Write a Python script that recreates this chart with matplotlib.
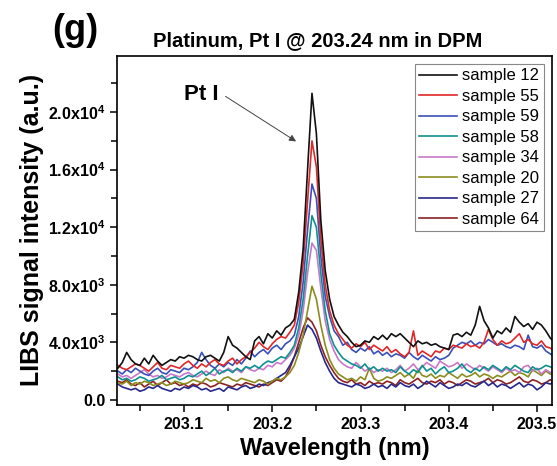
import numpy as np
import matplotlib
matplotlib.use("Agg")
import matplotlib.pyplot as plt
from matplotlib.ticker import FixedLocator, FixedFormatter

plt.rcParams['font.family'] = ['Liberation Sans', 'DejaVu Sans']
plt.rcParams['mathtext.default'] = 'regular'

# wavelength grid (nm)
wl = 203.025 + 0.005 * np.arange(100)

# intensities, in units of 100 counts
s12 = [22, 26, 33, 28, 25, 24, 29, 25, 31, 27, 24, 26, 28, 27, 30, 29,
       31, 30, 28, 27, 30, 31, 29, 27, 33, 44, 38, 36, 33, 30, 28,
       41, 44, 39, 46, 43, 48, 45, 50, 52, 56,
       75, 105, 160, 213, 185, 125, 90, 70, 58, 52, 47, 44, 40, 37, 38, 41, 40, 44, 42,
       45, 42, 46, 44, 46, 43, 40, 37, 41, 39, 40, 38, 39, 37, 36, 35, 45, 46, 44, 47,
       45, 52, 65, 55, 50, 43, 48, 46, 50, 47, 58, 54, 51, 53, 49, 54, 52, 48, 43, 40]
s55 = [24, 22, 21, 23, 25, 24, 22, 20, 23, 26, 22, 21, 24, 23, 22, 25,
       27, 24, 22, 25, 23, 26, 28, 25, 24, 27, 29, 25, 28, 30, 33,
       36, 40, 37, 35, 39, 42, 44, 43, 47, 52,
       68, 95, 138, 180, 162, 112, 80, 62, 52, 46, 42, 38, 36, 39, 37, 40, 35, 38, 36,
       34, 37, 33, 35, 32, 30, 33, 48, 31, 34, 32, 30, 34, 33, 36, 35, 38, 37, 36, 39,
       37, 38, 36, 40, 49, 42, 38, 41, 39, 40, 43, 46, 40, 42, 39, 38, 41, 37, 36, 34]
s59 = [20, 18, 21, 19, 22, 20, 18, 17, 20, 22, 19, 18, 21, 20, 19, 22,
       21, 23, 26, 33, 28, 24, 22, 25, 23, 26, 24, 28, 25, 29, 34,
       30, 33, 35, 32, 36, 38, 35, 39, 41, 45,
       58, 82, 118, 150, 140, 100, 72, 58, 48, 44, 38, 40, 35, 33, 36, 34, 37, 32, 34,
       31, 33, 30, 32, 31, 29, 33, 30, 28, 31, 29, 27, 30, 28, 29, 31, 36, 38, 40, 39,
       41, 38, 40, 39, 42, 40, 38, 39, 37, 36, 38, 37, 35, 45, 37, 36, 38, 34, 32, 30]
s58 = [16, 14, 15, 13, 14, 16, 15, 13, 14, 15, 17, 14, 15, 16, 14, 15,
       17, 16, 18, 20, 17, 19, 22, 18, 20, 21, 19, 22, 20, 23, 22,
       24, 22, 25, 27, 26, 28, 30, 29, 33, 38,
       50, 70, 100, 128, 120, 88, 62, 46, 38, 33, 29, 27, 25, 24, 22, 25, 21, 23, 20,
       22, 20, 21, 19, 23, 20, 18, 21, 19, 24, 20, 22, 18, 21, 23, 19, 20, 22, 25, 21,
       19, 22, 20, 23, 21, 24, 22, 20, 23, 21, 24, 22, 20, 19, 23, 21, 22, 24, 23, 22]
s34 = [18, 16, 17, 15, 17, 19, 21, 18, 16, 17, 15, 16, 18, 17, 16, 18,
       19, 17, 16, 18, 20, 18, 17, 21, 19, 22, 20, 21, 19, 23, 21,
       20, 22, 21, 24, 23, 26, 25, 28, 31, 36,
       45, 62, 88, 109, 104, 78, 55, 42, 34, 28, 25, 23, 22, 26, 23, 20, 22, 19, 21,
       20, 22, 19, 21, 24, 20, 22, 25, 21, 23, 26, 24, 22, 27, 25, 23, 24, 26, 22, 25,
       23, 21, 24, 22, 20, 23, 21, 19, 22, 20, 21, 19, 23, 24, 20, 22, 18, 21, 19, 20]
s20 = [12, 11, 13, 10, 12, 11, 13, 12, 10, 11, 12, 10, 11, 13, 12, 11,
       12, 14, 13, 12, 15, 13, 14, 12, 15, 16, 14, 13, 15, 14, 13,
       12, 14, 13, 11, 13, 15, 14, 16, 19, 24,
       33, 45, 62, 79, 70, 52, 38, 28, 22, 18, 16, 14, 15, 13, 16, 14, 22, 15, 13,
       14, 16, 15, 17, 19, 16, 18, 15, 21, 17, 16, 18, 15, 17, 16, 19, 17, 15, 18, 16,
       17, 19, 16, 18, 17, 15, 17, 16, 18, 20, 17, 19, 18, 16, 21, 19, 17, 20, 18, 17]
s27 = [11, 9, 8, 7, 8, 6, 7, 9, 8, 10, 8, 7, 6, 8, 7, 9,
       8, 10, 9, 7, 8, 6, 7, 8, 6, 9, 8, 7, 9, 10, 8,
       9, 11, 10, 12, 13, 15, 17, 19, 24, 30,
       36, 44, 52, 49, 43, 34, 26, 20, 15, 12, 11, 10, 9, 11, 10, 8, 9, 11, 9,
       10, 8, 11, 9, 12, 10, 9, 11, 8, 10, 13, 11, 9, 12, 10, 8, 9, 11, 10, 12,
       10, 9, 11, 13, 10, 12, 9, 11, 10, 8, 10, 12, 9, 11, 10, 7, 9, 12, 11, 13]
s64 = [13, 12, 14, 11, 10, 12, 9, 11, 13, 10, 12, 14, 11, 12, 10, 11,
       9, 11, 10, 12, 11, 9, 10, 12, 11, 10, 9, 11, 10, 12, 11,
       10, 9, 11, 10, 12, 14, 13, 16, 22, 30,
       40, 50, 57, 54, 48, 38, 30, 24, 19, 15, 13, 12, 14, 11, 12, 10, 13, 11, 12,
       11, 13, 12, 10, 14, 12, 11, 13, 15, 12, 11, 13, 12, 14, 11, 13, 12, 10, 12, 14,
       13, 11, 12, 13, 15, 12, 14, 13, 11, 12, 14, 16, 13, 12, 14, 13, 11, 12, 14, 12]

labels = ["sample 12", "sample 55", "sample 59", "sample 58",
          "sample 34", "sample 20", "sample 27", "sample 64"]
colors = ["#111111", "#e02828", "#3a50b8", "#0f9090",
          "#c878c8", "#8c8c1e", "#28288c", "#8c2323"]
series = [s12, s55, s59, s58, s34, s20, s27, s64]

yticks = [0, 4000, 8000, 12000, 16000, 20000]
ytick_labels = ["0.0", "4.0x10$^{3}$", "8.0x10$^{3}$", "1.2x10$^{4}$",
                "1.6x10$^{4}$", "2.0x10$^{4}$"]

fig = plt.figure(figsize=(5.57, 4.66), dpi=100)
ax = fig.add_axes([0.210, 0.131, 0.781, 0.749])

# draw from the weakest to the strongest so black ends on top
for s, c, lab in reversed(list(zip(series, colors, labels))):
    ax.plot(wl, np.array(s) * 100, color=c, lw=1.2, label=lab)

ax.set_xlim(203.024, 203.517)
ax.set_ylim(-350, 23900)

ax.xaxis.set_major_locator(FixedLocator([203.1, 203.2, 203.3, 203.4, 203.5]))
ax.xaxis.set_major_formatter(FixedFormatter(["203.1", "203.2", "203.3", "203.4", "203.5"]))
ax.xaxis.set_minor_locator(FixedLocator([203.05, 203.15, 203.25, 203.35, 203.45]))
ax.yaxis.set_major_locator(FixedLocator(yticks))
ax.yaxis.set_major_formatter(FixedFormatter(ytick_labels))
ax.yaxis.set_minor_locator(FixedLocator([2000, 6000, 10000, 14000, 18000, 22000]))

ax.tick_params(which='both', direction='out', width=1.1, top=False, right=False)
ax.tick_params(which='major', length=5, labelsize=11.5)
ax.tick_params(which='minor', length=4)
for t in ax.get_xticklabels() + ax.get_yticklabels():
    t.set_fontweight('bold')
for sp in ax.spines.values():
    sp.set_linewidth(1.2)

ax.set_xlabel("Wavelength (nm)", fontsize=17, fontweight='bold', labelpad=4)
ax.set_ylabel("LIBS signal intensity (a.u.)", fontsize=18, fontweight='bold', labelpad=3)

# legend in the original order
h, l = ax.get_legend_handles_labels()
leg = ax.legend(h[::-1], l[::-1], loc='upper right', fontsize=12, frameon=True,
                fancybox=False, edgecolor='#888888', framealpha=1,
                handlelength=2.3, handletextpad=0.3, labelspacing=0.33,
                borderpad=0.25, borderaxespad=0.5)
leg.get_frame().set_linewidth(0.8)

ax.text(203.12, 21200, "Pt I", fontsize=16, fontweight='bold', ha='center', va='center')
ax.annotate("", xy=(203.227, 17960), xytext=(203.147, 21090),
            arrowprops=dict(arrowstyle='-|>', color='#444444', lw=0.7,
                            shrinkA=0, shrinkB=0, mutation_scale=10))

fig.text(0.135, 0.935, "(g)", fontsize=26, fontweight='bold', ha='center', va='center')
fig.text(0.57, 0.913, "Platinum, Pt I @ 203.24 nm in DPM", fontsize=14.5,
         fontweight='bold', ha='center', va='center')

fig.savefig("out.png", dpi=100)
